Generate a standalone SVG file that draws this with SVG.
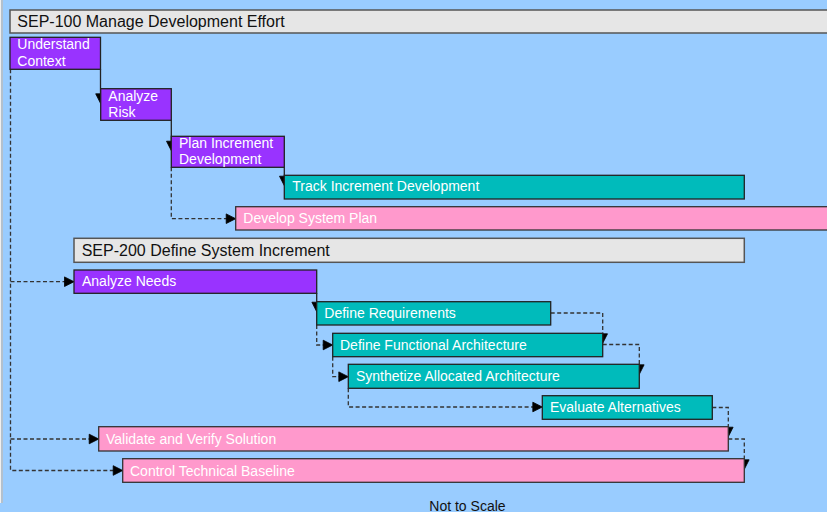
<svg xmlns="http://www.w3.org/2000/svg" xmlns:xlink="http://www.w3.org/1999/xlink" width="827" height="512" viewBox="0 0 827 512">
<style>
.hdr{fill:#e6e6e6;stroke:#555;stroke-width:1.5}
.pur{fill:#9933ff;stroke:#222;stroke-width:1.3}
.tea{fill:#00bbbb;stroke:#222;stroke-width:1.3}
.pnk{fill:#ff99cc;stroke:#333;stroke-width:1.3}
.ht{font-family:"Liberation Sans",Arial,sans-serif;font-size:16px;fill:#111}
.lt{font-family:"Liberation Sans",Arial,sans-serif;font-size:14px;fill:#fff}
.nt{font-family:"Liberation Sans",Arial,sans-serif;font-size:14px;fill:#111}
.sol{fill:none;stroke:#222;stroke-width:1.3}
.dsh{fill:none;stroke:#333;stroke-width:1.3;stroke-dasharray:4,2.5}
.ah{fill:#000;stroke:#000;stroke-width:0.8;stroke-linejoin:miter}
</style>
<defs>
<path id="td" d="M-4.8,-9.5 L4.8,-9.5 L0,0 Z"/>
<path id="tr" d="M-9.5,-4.8 L0,0 L-9.5,4.8 Z"/>
</defs>
<rect x="0" y="0" width="827" height="512" fill="#99ccff"/>
<line x1="0.5" y1="0" x2="0.5" y2="503" stroke="#f0f0f0" stroke-width="1"/>
<line x1="2" y1="0" x2="2" y2="503" stroke="#bdbdbd" stroke-width="1.5"/>

<g id="connectors">
<path class="sol" d="M100.5 69.3 V97"/>
<path class="sol" d="M171.3 120.3 V144"/>
<path class="sol" d="M284.3 167.3 V179"/>
<path class="dsh" d="M171.3 167.3 V218.7 H229"/>
<path class="dsh" d="M10.5 69.3 V470.5 H116"/>
<path class="dsh" d="M10.5 281.7 H67"/>
<path class="dsh" d="M10.5 439 H92"/>
<path class="sol" d="M316.7 293.3 V305"/>
<path class="dsh" d="M316.7 325 V345 H326"/>
<path class="dsh" d="M550.7 313 H602.7 V337"/>
<path class="dsh" d="M332.7 356.7 V376.7 H342"/>
<path class="dsh" d="M602.7 344.5 H639.3 V368"/>
<path class="dsh" d="M348.3 388.3 V407 H536"/>
<path class="dsh" d="M712.3 407.5 H728.3 V430"/>
<path class="dsh" d="M728.3 439 H744.3 V463"/>
<g class="ah">
<use xlink:href="#td" href="#td" x="100.5" y="103.3"/>
<use xlink:href="#td" href="#td" x="171.3" y="150.7"/>
<use xlink:href="#td" href="#td" x="284.3" y="185.7"/>
<use xlink:href="#tr" href="#tr" x="235.7" y="218.7"/>
<use xlink:href="#tr" href="#tr" x="122.7" y="470.5"/>
<use xlink:href="#tr" href="#tr" x="74" y="281.7"/>
<use xlink:href="#tr" href="#tr" x="98.7" y="439"/>
<use xlink:href="#td" href="#td" x="316.7" y="311.7"/>
<use xlink:href="#tr" href="#tr" x="332.7" y="345"/>
<use xlink:href="#td" href="#td" x="602.7" y="343.3"/>
<use xlink:href="#tr" href="#tr" x="348.3" y="376.7"/>
<use xlink:href="#td" href="#td" x="639.3" y="374.3"/>
<use xlink:href="#tr" href="#tr" x="542.3" y="407"/>
<use xlink:href="#td" href="#td" x="728.3" y="436.7"/>
<use xlink:href="#td" href="#td" x="744.3" y="469.3"/>
</g>
</g>

<g id="sep100">
<rect class="hdr" x="10" y="10" width="830" height="23"/>
<text class="ht" x="17.3" y="27.3">SEP-100 Manage Development Effort</text>
</g>
<g id="understand-context">
<rect class="pur" x="10" y="37.3" width="90.5" height="32"/>
<text class="lt" x="17.3" y="49.3">Understand</text>
<text class="lt" x="17.3" y="66">Context</text>
</g>
<g id="analyze-risk">
<rect class="pur" x="100.7" y="88.7" width="70.6" height="31.6"/>
<text class="lt" x="108.3" y="100.7">Analyze</text>
<text class="lt" x="108.3" y="116.7">Risk</text>
</g>
<g id="plan-increment">
<rect class="pur" x="171.3" y="136.3" width="113" height="31"/>
<text class="lt" x="179" y="147.7">Plan Increment</text>
<text class="lt" x="179" y="164.3">Development</text>
</g>
<g id="track-increment">
<rect class="tea" x="284.3" y="175.3" width="460" height="23.7"/>
<text class="lt" x="292.3" y="191">Track Increment Development</text>
</g>
<g id="develop-system-plan">
<rect class="pnk" x="235.7" y="206.7" width="600" height="23.3"/>
<text class="lt" x="243.3" y="223">Develop System Plan</text>
</g>
<g id="sep200">
<rect class="hdr" x="74" y="238.3" width="670.3" height="24"/>
<text class="ht" x="81.7" y="255.5">SEP-200 Define System Increment</text>
</g>
<g id="analyze-needs">
<rect class="pur" x="74" y="270" width="242.7" height="23.3"/>
<text class="lt" x="82" y="286">Analyze Needs</text>
</g>
<g id="define-requirements">
<rect class="tea" x="316.7" y="301.7" width="234" height="23.3"/>
<text class="lt" x="324.3" y="318">Define Requirements</text>
</g>
<g id="define-functional">
<rect class="tea" x="332.7" y="333.3" width="270" height="23.4"/>
<text class="lt" x="340" y="349.5">Define Functional Architecture</text>
</g>
<g id="synthetize">
<rect class="tea" x="348.3" y="364.3" width="291" height="24"/>
<text class="lt" x="356" y="381">Synthetize Allocated Architecture</text>
</g>
<g id="evaluate-alternatives">
<rect class="tea" x="542.3" y="395.7" width="170" height="23.6"/>
<text class="lt" x="550" y="412">Evaluate Alternatives</text>
</g>
<g id="validate-verify">
<rect class="pnk" x="98.7" y="426.7" width="629.6" height="24.3"/>
<text class="lt" x="106" y="444">Validate and Verify Solution</text>
</g>
<g id="control-baseline">
<rect class="pnk" x="122.7" y="458.7" width="621.6" height="23.6"/>
<text class="lt" x="130" y="475.5">Control Technical Baseline</text>
</g>
<text class="nt" x="429.3" y="510.5">Not to Scale</text>
</svg>
